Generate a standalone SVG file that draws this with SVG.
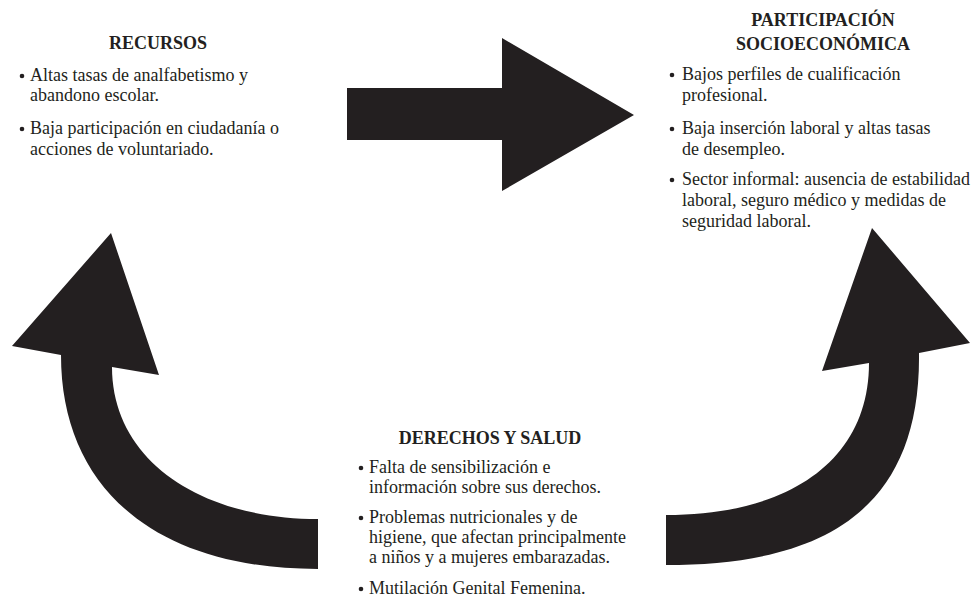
<svg xmlns="http://www.w3.org/2000/svg" width="972" height="598" viewBox="0 0 972 598">
<style>
text{font-family:"Liberation Serif","Times New Roman",serif;fill:#231f20;font-size:18px}
.h{font-weight:bold;text-anchor:middle}
.b{fill:#231f20}
.arrow{fill:#231f20}
</style>
<rect width="972" height="598" fill="#fff"/>
<g id="connectors">
<polygon class="arrow" points="347,88 502,88 502,38 634,115 502,191 502,140 347,140"/>
<path class="arrow" d="M318,519 C200,519 112,460 112,367 L159,375 L111,233 L12,346 L61,355 C61,488 155,569 318,569 Z"/>
<path class="arrow" d="M666,515 C790,515 869,460 869,363 L822,371 L872,228 L970,343 L919,353 C921,520 810,565 666,565 Z"/>
</g>
<g id="recursos">
<text class="h" x="158" y="49">RECURSOS</text>
<circle class="b" cx="22" cy="76" r="2.3"/>
<text x="30" y="81">Altas tasas de analfabetismo y</text>
<text x="30" y="101">abandono escolar.</text>
<circle class="b" cx="22" cy="129" r="2.3"/>
<text x="30" y="134">Baja participación en ciudadanía o</text>
<text x="30" y="155">acciones de voluntariado.</text>
</g>
<g id="participacion">
<text class="h" x="823" y="26">PARTICIPACIÓN</text>
<text class="h" x="823" y="50">SOCIOECONÓMICA</text>
<circle class="b" cx="672" cy="75" r="2.3"/>
<text x="682" y="80">Bajos perfiles de cualificación</text>
<text x="682" y="101">profesional.</text>
<circle class="b" cx="672" cy="129" r="2.3"/>
<text x="682" y="134">Baja inserción laboral y altas tasas</text>
<text x="682" y="155">de desempleo.</text>
<circle class="b" cx="672" cy="180" r="2.3"/>
<text x="682" y="185">Sector informal: ausencia de estabilidad</text>
<text x="682" y="206">laboral, seguro médico y medidas de</text>
<text x="682" y="227">seguridad laboral.</text>
</g>
<g id="derechos">
<text class="h" x="490" y="444">DERECHOS Y SALUD</text>
<circle class="b" cx="361" cy="468" r="2.3"/>
<text x="369" y="473">Falta de sensibilización e</text>
<text x="369" y="493">información sobre sus derechos.</text>
<circle class="b" cx="361" cy="518" r="2.3"/>
<text x="369" y="523">Problemas nutricionales y de</text>
<text x="369" y="543">higiene, que afectan principalmente</text>
<text x="369" y="563">a niños y a mujeres embarazadas.</text>
<circle class="b" cx="361" cy="589" r="2.3"/>
<text x="369" y="594">Mutilación Genital Femenina.</text>
</g>
</svg>
